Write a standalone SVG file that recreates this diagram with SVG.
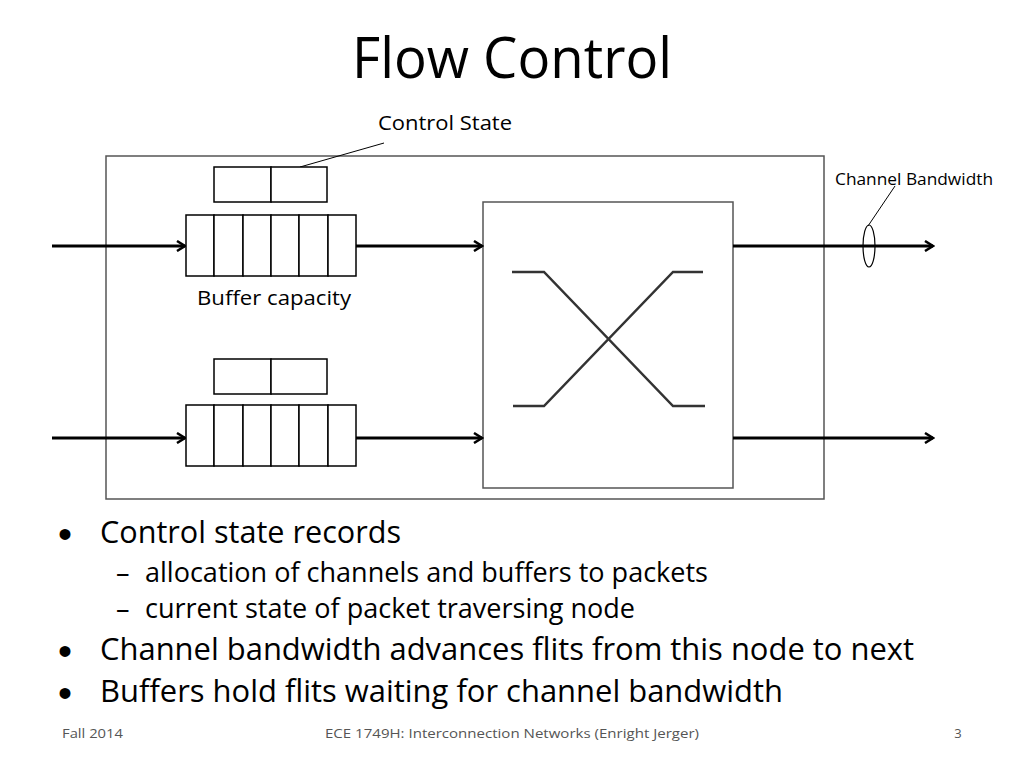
<svg xmlns="http://www.w3.org/2000/svg" width="1024" height="768" viewBox="0 0 1024 768">
<style>
.t{font-family:"Open Sans","Liberation Sans",sans-serif;fill:#000}
.box{fill:#fff;stroke:#555;stroke-width:1.5}
.cell{fill:#fff;stroke:#000;stroke-width:1.5}
.w{fill:none;stroke:#000;stroke-width:3}
.x{fill:none;stroke:#333;stroke-width:2.5}
.thin{fill:none;stroke:#000;stroke-width:1}
.f{font-family:"Open Sans","Liberation Sans",sans-serif;fill:#555;font-size:13px}
.b{font-family:"Liberation Sans",sans-serif;fill:#000;font-size:40px}
</style>
<defs>
<marker id="ah" markerWidth="12" markerHeight="12" refX="10" refY="6" orient="auto" markerUnits="userSpaceOnUse">
<path d="M2,1 L10,6 L2,11" fill="none" stroke="#000" stroke-width="2.5"/>
</marker>
</defs>
<rect width="1024" height="768" fill="#fff"/>
<text class="t" x="512" y="78" font-size="56" text-anchor="middle" textLength="320" lengthAdjust="spacingAndGlyphs">Flow Control</text>

<g id="router">
<rect class="box" x="106" y="156" width="718" height="343"/>
</g>
<g id="switch">
<rect class="box" x="483" y="202" width="250" height="286"/>
<path class="x" d="M512,272 H544 L673,406 H705"/>
<path class="x" d="M703,272 H673 L544,406 H513"/>
</g>

<g id="connectors">
<line class="w" x1="52" y1="246" x2="185" y2="246" marker-end="url(#ah)"/>
<line class="w" x1="356" y1="246" x2="482" y2="246" marker-end="url(#ah)"/>
<line class="w" x1="733" y1="246" x2="933" y2="246" marker-end="url(#ah)"/>
<line class="w" x1="52" y1="438" x2="185" y2="438" marker-end="url(#ah)"/>
<line class="w" x1="356" y1="438" x2="482" y2="438" marker-end="url(#ah)"/>
<line class="w" x1="733" y1="438" x2="933" y2="438" marker-end="url(#ah)"/>
<line class="thin" x1="384" y1="143" x2="300" y2="167"/>
<line class="thin" x1="895" y1="186" x2="868" y2="226"/>
</g>

<g id="controlstate1">
<rect class="cell" x="214" y="167" width="57" height="35"/>
<rect class="cell" x="271" y="167" width="56" height="35"/>
</g>
<g id="buffer1">
<rect class="cell" x="186" y="215" width="28" height="61"/>
<rect class="cell" x="214" y="215" width="29" height="61"/>
<rect class="cell" x="243" y="215" width="28" height="61"/>
<rect class="cell" x="271" y="215" width="28" height="61"/>
<rect class="cell" x="299" y="215" width="29" height="61"/>
<rect class="cell" x="328" y="215" width="28" height="61"/>
</g>
<g id="controlstate2">
<rect class="cell" x="214" y="359" width="57" height="35"/>
<rect class="cell" x="271" y="359" width="56" height="35"/>
</g>
<g id="buffer2">
<rect class="cell" x="186" y="405" width="28" height="61"/>
<rect class="cell" x="214" y="405" width="29" height="61"/>
<rect class="cell" x="243" y="405" width="28" height="61"/>
<rect class="cell" x="271" y="405" width="28" height="61"/>
<rect class="cell" x="299" y="405" width="29" height="61"/>
<rect class="cell" x="328" y="405" width="28" height="61"/>
</g>
<g id="channel">
<ellipse cx="869" cy="246" rx="6" ry="21" fill="none" stroke="#000" stroke-width="1.2"/>
</g>

<g id="labels">
<text class="t" x="378" y="130" font-size="20" textLength="134" lengthAdjust="spacingAndGlyphs">Control State</text>
<text class="t" x="197" y="305" font-size="20" textLength="154" lengthAdjust="spacingAndGlyphs">Buffer capacity</text>
<text class="t" x="835" y="185" font-size="17" textLength="158" lengthAdjust="spacingAndGlyphs">Channel Bandwidth</text>
</g>

<g id="bullets">
<text class="b" x="58" y="548">•</text>
<text class="t" x="100" y="543" font-size="31" textLength="301" lengthAdjust="spacingAndGlyphs">Control state records</text>
<text class="t" x="116" y="582" font-size="27">–</text>
<text class="t" x="145" y="582" font-size="27" textLength="563" lengthAdjust="spacingAndGlyphs">allocation of channels and buffers to packets</text>
<text class="t" x="116" y="618" font-size="27">–</text>
<text class="t" x="145" y="618" font-size="27" textLength="490" lengthAdjust="spacingAndGlyphs">current state of packet traversing node</text>
<text class="b" x="58" y="665">•</text>
<text class="t" x="100" y="660" font-size="31" textLength="814" lengthAdjust="spacingAndGlyphs">Channel bandwidth advances flits from this node to next</text>
<text class="b" x="58" y="707">•</text>
<text class="t" x="100" y="702" font-size="31" textLength="683" lengthAdjust="spacingAndGlyphs">Buffers hold flits waiting for channel bandwidth</text>
</g>

<g id="footer">
<text class="f" x="62" y="738" textLength="61" lengthAdjust="spacingAndGlyphs">Fall 2014</text>
<text class="f" x="512" y="738" text-anchor="middle" textLength="374" lengthAdjust="spacingAndGlyphs">ECE 1749H: Interconnection Networks (Enright Jerger)</text>
<text class="f" x="958" y="738" text-anchor="middle">3</text>
</g>
</svg>
